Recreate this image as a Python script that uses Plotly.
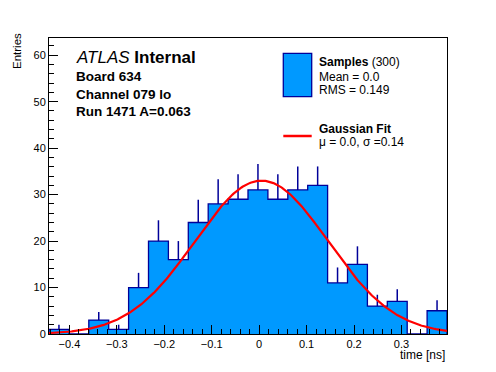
import numpy as np
import plotly.graph_objects as go

# ---- data ----
bin_lo = -0.443
bin_hi = 0.396
n_bins = 20
counts = [1, 0, 3, 1, 10, 20, 16, 24, 28, 29, 31, 29, 31, 32, 11, 15, 6, 7, 0, 5]
errors = [1.0, 0.0, 1.73, 1.0, 3.16, 4.47, 4.0, 4.9, 5.29, 5.39, 5.57, 5.39, 5.06, 4.06, 3.32, 3.87, 2.45, 2.65, 0.0, 2.24]
fit_amp = 33.0
fit_mu = 0.005
fit_sigma = 0.14
y_max = 63.7

info_lines = ["<i>ATLAS</i> <b>Internal</b>", "<b>Board 634</b>", "<b>Channel 079 lo</b>", "<b>Run 1471 A=0.063</b>"]
legend_hist = ["<b>Samples</b> (300)", "Mean = 0.0", "RMS = 0.149"]
legend_fit = ["<b>Gaussian Fit</b>", "μ = 0.0, σ =0.14"]

FILL = "rgb(0,153,255)"
NAVY = "#000099"
FONT = "Liberation Sans"

edges = np.linspace(bin_lo, bin_hi, n_bins + 1)
centers = 0.5 * (edges[:-1] + edges[1:])

# step outline of histogram (filled)
step_x = [edges[0]] + list(edges[:-1]) + [edges[-1], edges[-1]]
step_y = [0] + counts + [counts[-1], 0]

fig = go.Figure()
fig.add_trace(go.Scatter(x=step_x, y=step_y, mode="lines", line=dict(shape="hv", color=NAVY, width=1.3),
                         fill="tozeroy", fillcolor=FILL, showlegend=False, hoverinfo="skip"))

# error bars (upper half only, lower half hidden under fill in the reference)
ex = [c for c, e in zip(centers, errors) if e > 0]
ey = [v for v, e in zip(counts, errors) if e > 0]
ee = [e for e in errors if e > 0]
fig.add_trace(go.Scatter(x=ex, y=ey, mode="markers", marker=dict(size=1, color="rgba(0,0,0,0)"),
                         error_y=dict(type="data", array=ee, arrayminus=[0] * len(ee), symmetric=False,
                                      color=NAVY, thickness=1.5, width=0),
                         showlegend=False, hoverinfo="skip"))

# gaussian fit curve
gx = np.linspace(bin_lo, bin_hi, 400)
gy = fit_amp * np.exp(-0.5 * ((gx - fit_mu) / fit_sigma) ** 2)
fig.add_trace(go.Scatter(x=gx, y=gy, mode="lines", line=dict(color="red", width=2.2),
                         showlegend=False, hoverinfo="skip"))

# page has an 8px body margin: figure is placed at (8, 8)
OFF = 8
W, H = 496 - 2 * OFF, 372 - 2 * OFF
# plot frame in page pixels
L, R, T, B = 49, 447, 38, 334


def px(xp):
    return (xp - L) / (R - L)


def py(yp):
    return (B - yp) / (B - T)


axis_common = dict(showline=True, linecolor="black", linewidth=1, mirror=True, showgrid=False,
                   zeroline=False, ticks="inside", tickcolor="black", ticklen=9, tickwidth=1,
                   tickfont=dict(family=FONT, size=11, color="black"))

fig.update_xaxes(range=[bin_lo, bin_hi], tick0=0, dtick=0.1,
                 minor=dict(ticks="inside", ticklen=5, tick0=0, dtick=0.02, tickcolor="black", showgrid=False),
                 **axis_common)
fig.update_yaxes(range=[0, y_max], tick0=0, dtick=10,
                 minor=dict(ticks="inside", ticklen=5, tick0=0, dtick=2, tickcolor="black", showgrid=False),
                 **axis_common)

annotations = []
# axis titles
annotations.append(dict(text="time [ns]", xref="paper", yref="paper", x=1, y=0, xanchor="right",
                        yanchor="middle", yshift=-21, showarrow=False,
                        font=dict(family=FONT, size=12, color="black")))
annotations.append(dict(text="Entries", xref="paper", yref="paper", x=0, y=py(51), xanchor="center",
                        yanchor="middle", xshift=17 - L, textangle=-90, showarrow=False,
                        font=dict(family=FONT, size=11.5, color="black")))

# info text (top-left)
info_y = [57.3, 76.7, 94.3, 111.7]
info_size = [17, 13.5, 13.5, 13.5]
for t, yy, s in zip(info_lines, info_y, info_size):
    annotations.append(dict(text=t, xref="paper", yref="paper", x=px(74), y=py(yy), xanchor="left",
                            yanchor="middle", showarrow=False, font=dict(family=FONT, size=s, color="black")))

# legend texts
for t, yy in zip(legend_hist, [61.7, 76.7, 90.0]):
    annotations.append(dict(text=t, xref="paper", yref="paper", x=px(316.5), y=py(yy), xanchor="left",
                            yanchor="middle", showarrow=False, font=dict(family=FONT, size=12, color="black")))
for t, yy in zip(legend_fit, [129.3, 141.5]):
    annotations.append(dict(text=t, xref="paper", yref="paper", x=px(316.5), y=py(yy), xanchor="left",
                            yanchor="middle", showarrow=False, font=dict(family=FONT, size=12, color="black")))

shapes = [
    dict(type="rect", xref="paper", yref="paper", x0=px(283.3), x1=px(311.7), y0=py(96.7), y1=py(53.3),
         fillcolor=FILL, line=dict(color=NAVY, width=1.3)),
    dict(type="line", xref="paper", yref="paper", x0=px(283.3), x1=px(311.7), y0=py(136), y1=py(136),
         line=dict(color="red", width=2.5)),
]

fig.update_layout(width=W, height=H,
                  margin=dict(l=L - OFF, r=(W + OFF) - R, t=T - OFF, b=(H + OFF) - B, pad=0),
                  paper_bgcolor="white", plot_bgcolor="white",
                  font=dict(family=FONT, color="black"),
                  annotations=annotations, shapes=shapes, showlegend=False)

fig.write_html("out.html")
